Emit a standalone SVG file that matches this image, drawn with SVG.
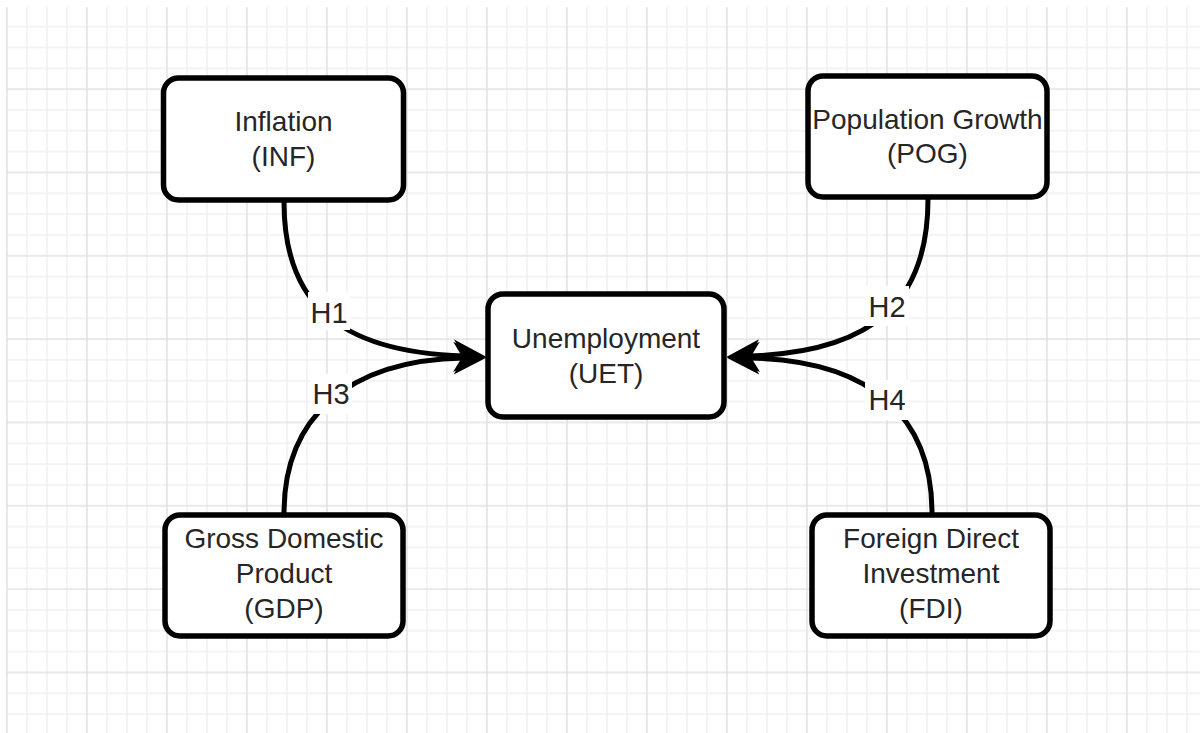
<svg xmlns="http://www.w3.org/2000/svg" width="1200" height="733" viewBox="0 0 1200 733">
  <defs>
    <pattern id="grid" patternUnits="userSpaceOnUse" x="6" y="4.8" width="80" height="83.333">
      <g stroke="#f1f1f1" stroke-width="1.5">
        <line x1="21" y1="0" x2="21" y2="83.333"/>
        <line x1="41" y1="0" x2="41" y2="83.333"/>
        <line x1="61" y1="0" x2="61" y2="83.333"/>
        <line x1="0" y1="21.833" x2="80" y2="21.833"/>
        <line x1="0" y1="42.667" x2="80" y2="42.667"/>
        <line x1="0" y1="63.5" x2="80" y2="63.5"/>
      </g>
      <g stroke="#e2e2e2" stroke-width="1.5">
        <line x1="1" y1="0" x2="1" y2="83.333"/>
        <line x1="0" y1="1" x2="80" y2="1"/>
      </g>
    </pattern>
    <marker id="arrow" markerUnits="userSpaceOnUse" markerWidth="32" markerHeight="30" refX="8" refY="14" orient="auto" overflow="visible">
      <path d="M 0 0 L 28 14 L 0 28 L 8 14 Z" fill="#000" stroke="#000" stroke-width="2" stroke-linejoin="miter"/>
    </marker>
    <style>
      .box { fill: #ffffff; stroke: #000000; stroke-width: 5.5; }
      .lbl { font-family: "Liberation Sans", Arial, sans-serif; font-size: 28px; fill: #262626; text-anchor: middle; }
      .edge { fill: none; stroke: #000000; stroke-width: 5; }
      .hbg { fill: #ffffff; }
      .hlbl { font-family: "Liberation Sans", Arial, sans-serif; font-size: 29px; fill: #262626; text-anchor: middle; }
    </style>
  </defs>

  <rect x="0" y="0" width="1200" height="733" fill="#ffffff"/>
  <rect x="6" y="7" width="1194" height="726" fill="url(#grid)"/>

  <g id="connectors">
    <path class="edge" d="M 284 202 C 284 300, 335 352, 464 356" marker-end="url(#arrow)"/>
    <path class="edge" d="M 284 513 C 284 420, 345 360, 464 358" marker-end="url(#arrow)"/>
    <path class="edge" d="M 928 199 C 928 300, 875 352, 749 356" marker-end="url(#arrow)"/>
    <path class="edge" d="M 932 513 C 932 420, 875 360, 749 358" marker-end="url(#arrow)"/>
    <g id="label-H1">
      <rect class="hbg" x="308" y="292" width="42" height="38"/>
      <text class="hlbl" x="329" y="323">H1</text>
    </g>
    <g id="label-H3">
      <rect class="hbg" x="310" y="374" width="42" height="40"/>
      <text class="hlbl" x="331" y="404">H3</text>
    </g>
    <g id="label-H2">
      <rect class="hbg" x="865" y="286" width="44" height="40"/>
      <text class="hlbl" x="887" y="317">H2</text>
    </g>
    <g id="label-H4">
      <rect class="hbg" x="865" y="380" width="44" height="40"/>
      <text class="hlbl" x="887" y="410">H4</text>
    </g>
  </g>

  <g id="node-inf">
    <rect class="box" x="163.5" y="78" width="240" height="122" rx="15"/>
    <text class="lbl" x="283.5" y="131">Inflation</text>
    <text class="lbl" x="283.5" y="166">(INF)</text>
  </g>

  <g id="node-pog">
    <rect class="box" x="808" y="76" width="239" height="121" rx="15"/>
    <text class="lbl" x="927.5" y="129">Population Growth</text>
    <text class="lbl" x="927.5" y="163">(POG)</text>
  </g>

  <g id="node-uet">
    <rect class="box" x="488" y="294" width="236" height="123" rx="15"/>
    <text class="lbl" x="606" y="348">Unemployment</text>
    <text class="lbl" x="606" y="383">(UET)</text>
  </g>

  <g id="node-gdp">
    <rect class="box" x="165" y="515" width="238" height="121" rx="15"/>
    <text class="lbl" x="284" y="548">Gross Domestic</text>
    <text class="lbl" x="284" y="583">Product</text>
    <text class="lbl" x="284" y="618">(GDP)</text>
  </g>

  <g id="node-fdi">
    <rect class="box" x="812" y="515" width="238" height="121" rx="15"/>
    <text class="lbl" x="931" y="548">Foreign Direct</text>
    <text class="lbl" x="931" y="583">Investment</text>
    <text class="lbl" x="931" y="618">(FDI)</text>
  </g>
</svg>
